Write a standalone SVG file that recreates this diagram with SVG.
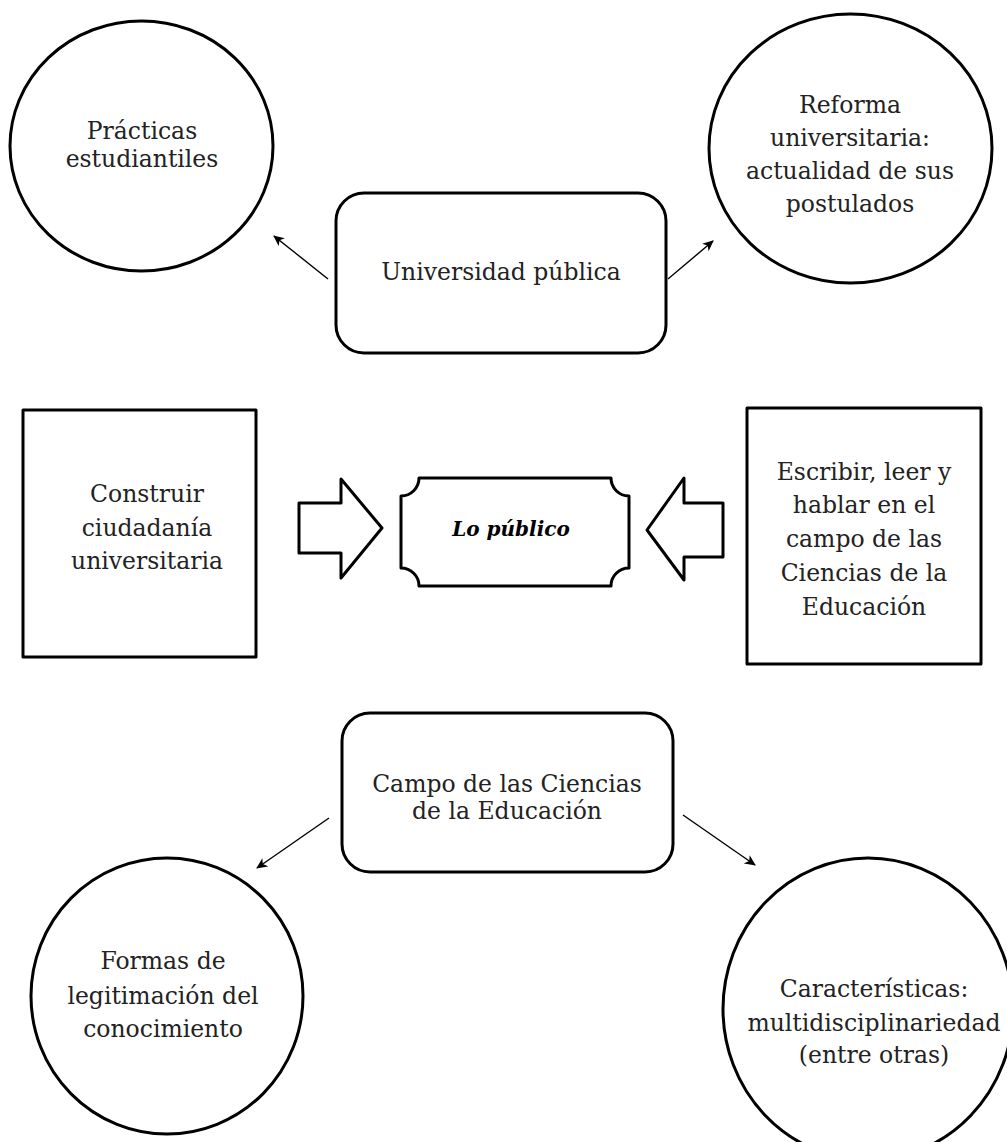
<svg xmlns="http://www.w3.org/2000/svg" width="1007" height="1142" viewBox="0 0 1007 1142">
<style>
.shape{fill:#fff;stroke:#000;stroke-width:3;stroke-linejoin:round}
.t{font-family:"DejaVu Serif","Liberation Serif",serif;font-size:23.5px;fill:#222;text-anchor:middle}
.b{font-family:"DejaVu Serif","Liberation Serif",serif;font-size:20px;font-weight:bold;font-style:italic;fill:#000;text-anchor:middle}
.c{fill:none;stroke:#000;stroke-width:1.4}
</style>
<defs>
<marker id="ah" markerWidth="12" markerHeight="10" refX="10" refY="5" orient="auto" markerUnits="userSpaceOnUse">
<path d="M0,0 L11,5 L0,10 L3,5 Z" fill="#000"/>
</marker>
</defs>
<rect width="1007" height="1142" fill="#fff"/>
<g id="connectors">
<line class="c" x1="328" y1="279" x2="274" y2="236" marker-end="url(#ah)"/>
<line class="c" x1="668" y1="279" x2="713" y2="241" marker-end="url(#ah)"/>
<line class="c" x1="329" y1="818" x2="257" y2="868" marker-end="url(#ah)"/>
<line class="c" x1="683" y1="815" x2="755" y2="865" marker-end="url(#ah)"/>
<polygon class="shape" points="299,503 341,503 341,479 382,528 341,578 341,553 299,553"/>
<polygon class="shape" points="723,503 684,503 684,478 647,530 684,580 684,557 723,557"/>
</g>
<g id="node-practicas">
<ellipse class="shape" cx="141.5" cy="146" rx="131.5" ry="125"/>
<text class="t" x="142" y="139">Prácticas</text>
<text class="t" x="142" y="167">estudiantiles</text>
</g>
<g id="node-reforma">
<ellipse class="shape" cx="850.5" cy="148.5" rx="141.5" ry="134.5"/>
<text class="t" x="850" y="113">Reforma</text>
<text class="t" x="850" y="146">universitaria:</text>
<text class="t" x="850" y="179">actualidad de sus</text>
<text class="t" x="850" y="212">postulados</text>
</g>
<g id="node-universidad">
<rect class="shape" x="336" y="193" width="330" height="160" rx="28"/>
<text class="t" x="501" y="280">Universidad pública</text>
</g>
<g id="node-construir">
<rect class="shape" x="23" y="410" width="233" height="247"/>
<text class="t" x="147" y="502">Construir</text>
<text class="t" x="147" y="536">ciudadanía</text>
<text class="t" x="147" y="569">universitaria</text>
</g>
<g id="node-lopublico">
<path class="shape" d="M419,478 L611,478 A18,18 0 0 0 629,496 L629,568 A18,18 0 0 0 611,586 L419,586 A18,18 0 0 0 401,568 L401,496 A18,18 0 0 0 419,478 Z"/>
<text class="b" x="511" y="536">Lo público</text>
</g>
<g id="node-escribir">
<rect class="shape" x="747" y="408" width="234" height="256"/>
<text class="t" x="864" y="480">Escribir, leer y</text>
<text class="t" x="864" y="513">hablar en el</text>
<text class="t" x="864" y="547">campo de las</text>
<text class="t" x="864" y="581">Ciencias de la</text>
<text class="t" x="864" y="615">Educación</text>
</g>
<g id="node-campo">
<rect class="shape" x="342" y="713" width="331" height="159" rx="28"/>
<text class="t" x="507" y="792">Campo de las Ciencias</text>
<text class="t" x="507" y="819">de la Educación</text>
</g>
<g id="node-formas">
<ellipse class="shape" cx="167" cy="996" rx="136" ry="138"/>
<text class="t" x="163" y="969">Formas de</text>
<text class="t" x="163" y="1004">legitimación del</text>
<text class="t" x="163" y="1037">conocimiento</text>
</g>
<g id="node-caracteristicas">
<ellipse class="shape" cx="868" cy="1009" rx="145" ry="151"/>
<text class="t" x="874" y="997">Características:</text>
<text class="t" x="874" y="1031">multidisciplinariedad</text>
<text class="t" x="874" y="1063">(entre otras)</text>
</g>
</svg>
